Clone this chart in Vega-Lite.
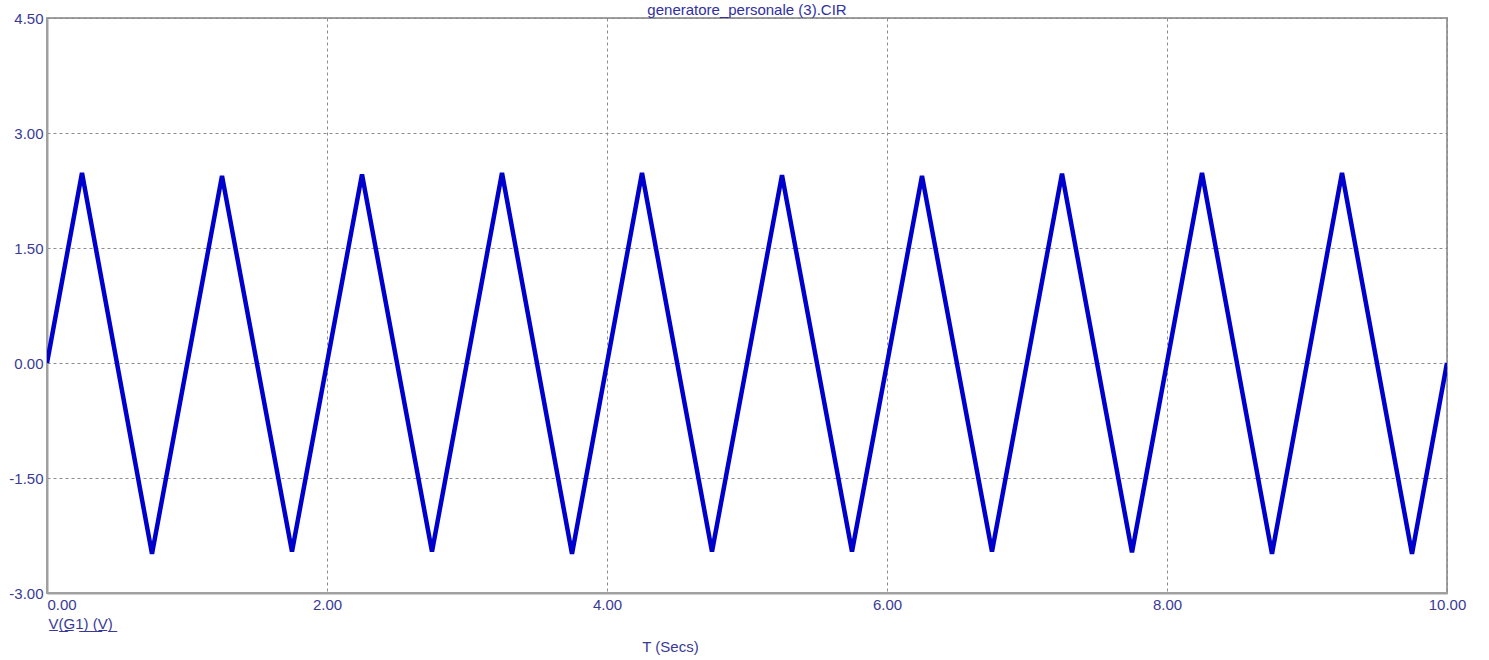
{
  "$schema": "https://vega.github.io/schema/vega-lite/v6.json",
  "autosize": {"type": "none"},
  "width": 1400,
  "height": 575,
  "padding": {"left": 47, "top": 18, "right": 42, "bottom": 67},
  "background": "white",
  "title": {
    "text": "generatore_personale (3).CIR",
    "font": "Liberation Sans",
    "fontSize": 15,
    "fontWeight": "normal",
    "color": "#3030a0",
    "anchor": "middle",
    "offset": 2,
    "dy": 9
  },
  "config": {
    "view": {"stroke": "#a0a0a0", "strokeWidth": 2},
    "axis": {
      "labelFont": "Liberation Sans",
      "labelFontSize": 15,
      "labelColor": "#3a3a96",
      "titleFont": "Liberation Sans",
      "titleFontSize": 15,
      "titleFontWeight": "normal",
      "titleColor": "#3a3a96",
      "domainColor": "#a0a0a0",
      "domainWidth": 2,
      "gridColor": "#8c8c8c",
      "gridDash": [3, 3],
      "gridWidth": 1,
      "ticks": false
    }
  },
  "data": {
    "values": [
      {"t": 0.0, "v": 0.0},
      {"t": 0.25, "v": 2.48},
      {"t": 0.75, "v": -2.49},
      {"t": 1.25, "v": 2.44},
      {"t": 1.75, "v": -2.46},
      {"t": 2.25, "v": 2.46},
      {"t": 2.75, "v": -2.46},
      {"t": 3.25, "v": 2.48},
      {"t": 3.75, "v": -2.49},
      {"t": 4.25, "v": 2.48},
      {"t": 4.75, "v": -2.46},
      {"t": 5.25, "v": 2.45},
      {"t": 5.75, "v": -2.46},
      {"t": 6.25, "v": 2.44},
      {"t": 6.75, "v": -2.46},
      {"t": 7.25, "v": 2.47},
      {"t": 7.75, "v": -2.47},
      {"t": 8.25, "v": 2.48},
      {"t": 8.75, "v": -2.49},
      {"t": 9.25, "v": 2.48},
      {"t": 9.75, "v": -2.49},
      {"t": 10.0, "v": 0.0}
    ]
  },
  "mark": {"type": "line", "color": "#0000cc", "strokeWidth": 4.5, "clip": true},
  "encoding": {
    "x": {
      "field": "t",
      "type": "quantitative",
      "scale": {"domain": [0, 10], "nice": false, "zero": false},
      "axis": {
        "values": [0, 2, 4, 6, 8, 10],
        "format": ".2f",
        "labelPadding": 4,
        "labelAlign": {"expr": "datum.value == 0 ? 'left' : 'center'"},
        "labelFlush": false,
        "title": "T (Secs)",
        "titleX": 623,
        "titleY": 53,
        "titleAlign": "center",
        "titleBaseline": "middle"
      }
    },
    "y": {
      "field": "v",
      "type": "quantitative",
      "scale": {"domain": [-3, 4.5], "nice": false, "zero": false},
      "axis": {
        "values": [-3, -1.5, 0, 1.5, 3, 4.5],
        "labelExpr": "(datum.value < 0 ? '-' : '') + format(abs(datum.value), '.2f')",
        "labelPadding": 4,
        "labelFlush": false,
        "title": "V̲(̲G̲1̲)̲ ̲(̲V̲)̲",
        "titleAngle": 0,
        "titleX": 1,
        "titleY": 605,
        "titleAlign": "left",
        "titleBaseline": "middle"
      }
    }
  }
}
